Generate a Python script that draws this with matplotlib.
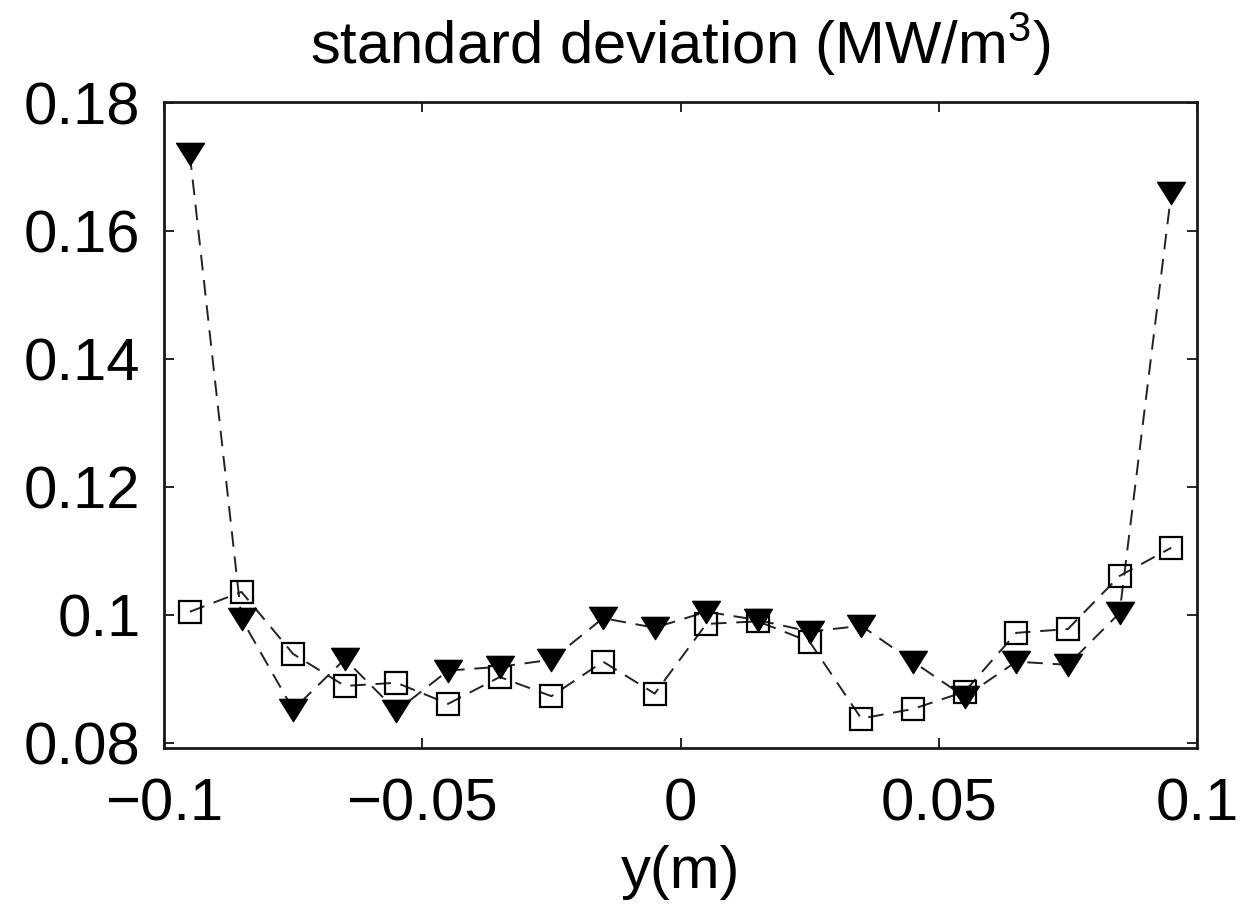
import numpy as np
import matplotlib
matplotlib.use("Agg")
import matplotlib.pyplot as plt
from matplotlib.path import Path

# positions across the channel (m)
y_pos = [-0.095, -0.085, -0.075, -0.065, -0.055, -0.045, -0.035, -0.025, -0.015, -0.005,
         0.005, 0.015, 0.025, 0.035, 0.045, 0.055, 0.065, 0.075, 0.085, 0.095]

# standard deviation, filled triangles
std_tri = [0.1720, 0.0994, 0.0852, 0.0931, 0.0850, 0.0913, 0.0919, 0.0930, 0.0995, 0.0980,
           0.1005, 0.0992, 0.0974, 0.0983, 0.0927, 0.0872, 0.0927, 0.0922, 0.1003, 0.1659]

# standard deviation, open squares
std_sq = [0.1005, 0.1036, 0.0939, 0.0889, 0.0894, 0.0861, 0.0903, 0.0873, 0.0927, 0.0877,
          0.0986, 0.0990, 0.0958, 0.0838, 0.0853, 0.0880, 0.0972, 0.0978, 0.1061, 0.1105]

x_ticks = [-0.1, -0.05, 0, 0.05, 0.1]
x_labels = ["\u22120.1", "\u22120.05", "0", "0.05", "0.1"]
y_ticks = [0.08, 0.1, 0.12, 0.14, 0.16, 0.18]
y_labels = ["0.08", "0.1", "0.12", "0.14", "0.16", "0.18"]

plt.rcParams["font.family"] = ["Liberation Sans", "DejaVu Sans"]
plt.rcParams["mathtext.fontset"] = "custom"
plt.rcParams["mathtext.rm"] = "Liberation Sans"
plt.rcParams["mathtext.it"] = "Liberation Sans"

# wide downward triangle like the matlab one
tri_marker = Path([(-1.0, 0.8), (1.0, 0.8), (0.0, -0.8), (-1.0, 0.8)],
                  [Path.MOVETO, Path.LINETO, Path.LINETO, Path.CLOSEPOLY])

fig = plt.figure(figsize=(12.57, 9.05), dpi=100)
ax = fig.add_axes([0.1305, 0.1735, 0.8218, 0.7138])

dash = (0, (8, 5))
ax.plot(y_pos, std_tri, color="#222222", lw=1.4, linestyle=dash, zorder=1)
ax.plot(y_pos, std_sq, color="#222222", lw=1.4, linestyle=dash, zorder=1)
ax.plot(y_pos, std_tri, linestyle="none", marker=tri_marker, ms=20,
        color="black", zorder=3)
ax.plot(y_pos, std_sq, linestyle="none", marker="s", ms=16,
        markerfacecolor="none", markeredgecolor="black", mew=1.6, zorder=2)

ax.set_xlim(-0.1, 0.1)
ax.set_ylim(0.0792, 0.1802)
ax.set_xticks(x_ticks)
ax.set_xticklabels(x_labels)
ax.set_yticks(y_ticks)
ax.set_yticklabels(y_labels)

ax.tick_params(direction="in", length=7, width=1.2, top=True, right=True,
               labelsize=43, colors="black")
ax.tick_params(axis="x", pad=21)
ax.tick_params(axis="y", pad=17)
for sp in ax.spines.values():
    sp.set_linewidth(2.0)
    sp.set_color("#1a1a1a")

ax.set_title("standard deviation (MW/m$^{3}$)", fontsize=43, pad=27)
ax.set_xlabel("y(m)", fontsize=43, labelpad=9)

fig.savefig("out.png", dpi=100, facecolor="white")
